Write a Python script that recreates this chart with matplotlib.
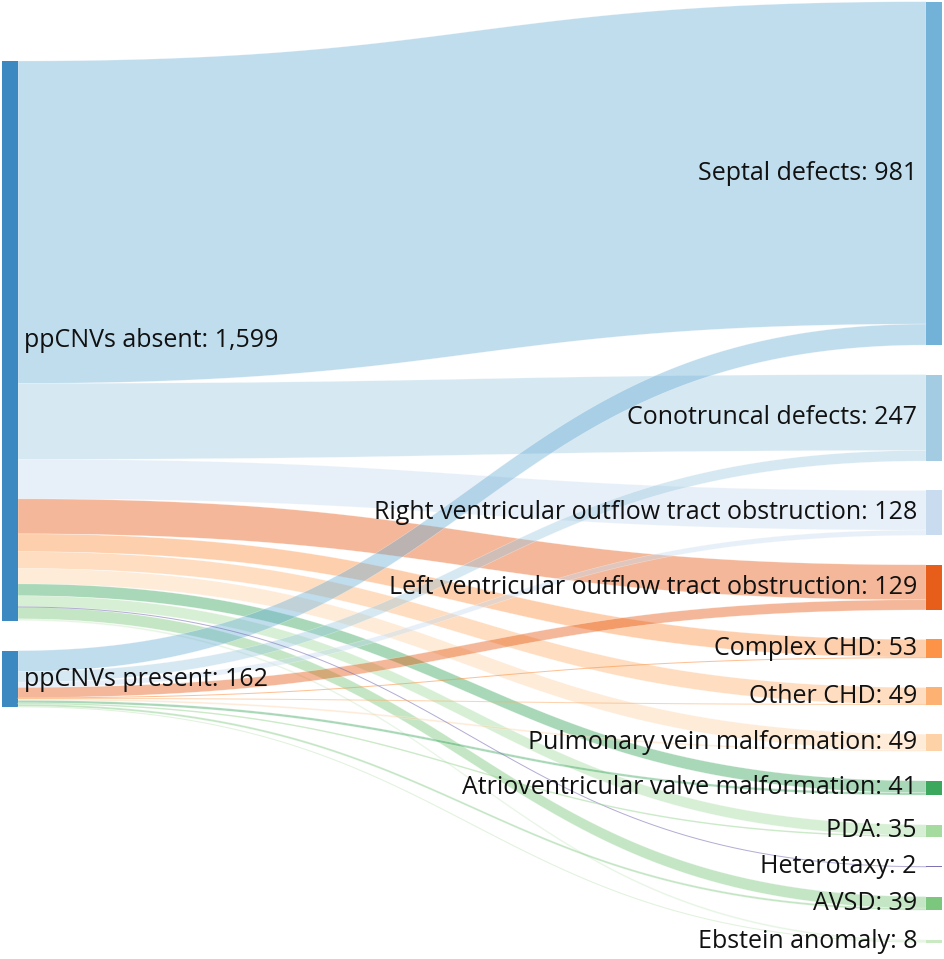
import numpy as np
import matplotlib.pyplot as plt
from matplotlib.patches import Polygon, Rectangle

plt.rcParams['font.family'] = ['Open Sans', 'DejaVu Sans']

# data
sources = ["ppCNVs absent", "ppCNVs present"]
source_totals = [1599, 162]
targets = ["Septal defects", "Conotruncal defects",
           "Right ventricular outflow tract obstruction",
           "Left ventricular outflow tract obstruction",
           "Complex CHD", "Other CHD", "Pulmonary vein malformation",
           "Atrioventricular valve malformation", "PDA", "Heterotaxy",
           "AVSD", "Ebstein anomaly"]
target_totals = [981, 247, 128, 129, 53, 49, 49, 41, 35, 2, 39, 8]
absent_counts = [921, 217, 113, 100, 51, 48, 44, 34, 31, 2, 33, 5]
present_counts = [60, 30, 15, 29, 2, 1, 5, 7, 4, 0, 6, 3]
flows = [absent_counts, present_counts]

source_color = "#3182bd"
target_colors = ["#6baed6", "#9ecae1", "#c6dbef", "#e6550d",
                 "#fd8d3c", "#fdae6b", "#fdd0a2", "#31a354",
                 "#a1d99b", "#756bb1", "#74c476", "#c7e9c0"]

# layout (pixels)
W, H = 945, 959
k = 0.350            # px per patient
node_w = 16
xl, xr = 2, 926
left_top, left_gap = 61, 30
right_top, right_gap = 1.7, 29.5
fs = 18

fig = plt.figure(figsize=(W / 100, H / 100), dpi=100)
ax = fig.add_axes([0, 0, 1, 1])
ax.set_xlim(0, W)
ax.set_ylim(H, 0)
ax.axis("off")

# node positions
src_y = []
y = left_top
for v in source_totals:
    src_y.append(y)
    y += v * k + left_gap
tgt_y = []
y = right_top
for v in target_totals:
    tgt_y.append(y)
    y += v * k + right_gap

t = np.linspace(0, 1, 80)
def bez(a, b):
    return (1 - t)**3 * a + 3 * (1 - t)**2 * t * a + 3 * (1 - t) * t**2 * b + t**3 * b

x0, x1 = xl + node_w, xr
xm = (x0 + x1) / 2
xs = (1 - t)**3 * x0 + 3 * (1 - t)**2 * t * xm + 3 * (1 - t) * t**2 * xm + t**3 * x1

# links: sources stacked top-down at each source, absent above present at each target
src_off = list(src_y)
tgt_off = list(tgt_y)
for i in range(len(sources)):
    for j in range(len(targets)):
        v = flows[i][j]
        if v <= 0:
            continue
        h = v * k
        ys, yt = src_off[i], tgt_off[j]
        src_off[i] += h
        tgt_off[j] += h
        top = bez(ys, yt)
        bot = bez(ys + h, yt + h)
        if h < 1.5:
            # very thin links drawn as lines
            ax.plot(xs, (top + bot) / 2, color=target_colors[j], alpha=0.55,
                    lw=max(h, 1.0) * 0.72)
            continue
        pts = np.concatenate([np.column_stack([xs, top]),
                              np.column_stack([xs[::-1], bot[::-1]])])
        ax.add_patch(Polygon(pts, closed=True, facecolor=target_colors[j],
                             alpha=0.42, edgecolor="white", linewidth=0.4))

# nodes
for i, name in enumerate(sources):
    h = source_totals[i] * k
    ax.add_patch(Rectangle((xl, src_y[i]), node_w, h, facecolor=source_color,
                           edgecolor="none", alpha=0.95))
    ax.text(xl + node_w + 6, src_y[i] + h / 2,
            "%s: %s" % (name, format(source_totals[i], ",")),
            ha="left", va="center", fontsize=fs, color="#111111")

for j, name in enumerate(targets):
    h = max(target_totals[j] * k, 1.0)
    ax.add_patch(Rectangle((xr, tgt_y[j]), node_w, h, facecolor=target_colors[j],
                           edgecolor="none", alpha=0.95))
    ax.text(xr - 9, tgt_y[j] + h / 2,
            "%s: %s" % (name, format(target_totals[j], ",")),
            ha="right", va="center", fontsize=fs, color="#111111")

fig.savefig("out.png", dpi=100)
